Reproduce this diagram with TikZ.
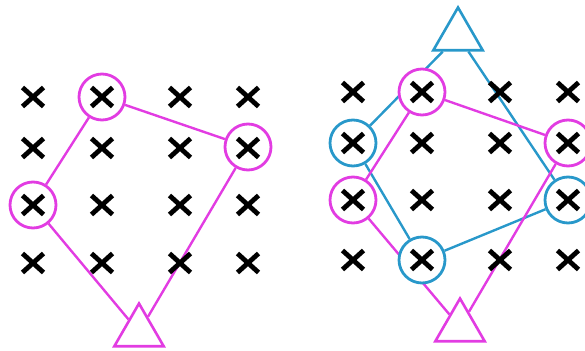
\documentclass[tikz,border=0pt]{standalone}
\usetikzlibrary{shapes.geometric}
\pgfdeclarelayer{background}
\pgfsetlayers{background,main}
\definecolor{mag}{RGB}{226,60,226}
\definecolor{cyanb}{RGB}{40,152,202}
\begin{document}
\begin{tikzpicture}[x=1pt,y=-1pt,
  xm/.style={minimum width=32pt,minimum height=32pt,inner sep=0pt,
    path picture={\draw[line width=4.8pt,black]
      (path picture bounding box.center) +(-10.5,-9.5) -- +(10.5,9.5)
      (path picture bounding box.center) +(-10.5,9.5) -- +(10.5,-9.5);}},
  ring/.style={circle,minimum size=46pt,inner sep=0pt,line width=2.8pt,fill=white,draw=#1},
  tri/.style={regular polygon,regular polygon sides=3,minimum size=57pt,inner sep=0pt,line width=2.6pt,draw=#1,fill=white},
  link/.style={line width=2.4pt,draw=#1}]
\useasboundingbox (0,0) rectangle (585,350);
% left panel
\node[ring=mag] (L1) at (102,97) {};
\node[ring=mag] (L2) at (248,147) {};
\node[ring=mag] (L3) at (33,205) {};
\node[tri=mag] (TL) at (139,332) {};
\begin{pgfonlayer}{background}
\draw[link=mag] (L1) -- (L3);
\draw[link=mag] (L1) -- (L2);
\draw[link=mag] (L3) -- (TL);
\draw[link=mag] (L2) -- (TL);
\end{pgfonlayer}
\foreach \c/\x in {1/33,2/102,3/180,4/248}{
  \foreach \r/\y in {1/97,2/148,3/205,4/263}{
    \node[xm] (lx\c\r) at (\x,\y) {};
  }
}
% right panel
\node[ring=mag] (M1) at (422,92) {};
\node[ring=mag] (M2) at (568,143) {};
\node[ring=mag] (M3) at (353,200) {};
\node[ring=cyanb] (B1) at (353,143) {};
\node[ring=cyanb] (B2) at (568,200) {};
\node[ring=cyanb] (B3) at (422,260) {};
\node[tri=cyanb] (TT) at (458,36) {};
\node[tri=mag] (TB) at (460,327) {};
\begin{pgfonlayer}{background}
\draw[link=cyanb] (TT) -- (B1);
\draw[link=cyanb] (B1) -- (B3);
\draw[link=cyanb] (B3) -- (B2);
\draw[link=cyanb] (B2) -- (TT);
\draw[link=mag] (M1) -- (M3);
\draw[link=mag] (M1) -- (M2);
\draw[link=mag] (M3) -- (TB);
\draw[link=mag] (M2) -- (TB);
\end{pgfonlayer}
\foreach \c/\x in {1/353,2/422,3/500,4/568}{
  \foreach \r/\y in {1/92,2/143,3/200,4/260}{
    \node[xm] (rx\c\r) at (\x,\y) {};
  }
}
\end{tikzpicture}
\end{document}
